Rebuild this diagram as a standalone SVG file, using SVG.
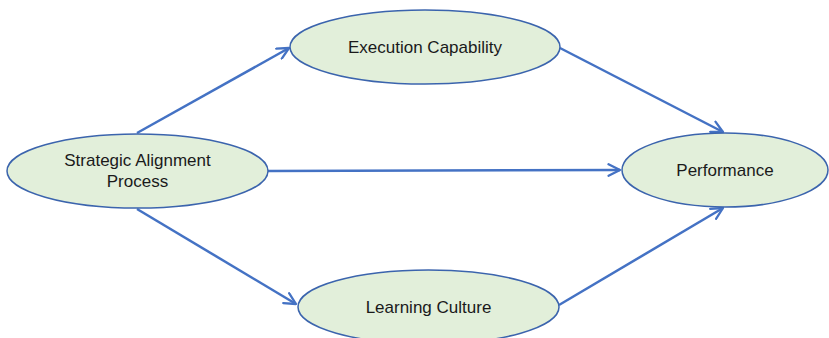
<svg xmlns="http://www.w3.org/2000/svg" width="829" height="338" viewBox="0 0 829 338">
  <style>
    .node ellipse { fill: #E2EFDA; stroke: #3B64AD; stroke-width: 1.5; }
    .node text { font-family: "Liberation Sans", Arial, sans-serif; font-size: 17px; fill: #1a1a1a; text-anchor: middle; }
    .edge { stroke: #4472C4; stroke-width: 2.5; fill: none; marker-end: url(#arrow); }
  </style>
  <defs>
    <marker id="arrow" viewBox="0 0 12 12" refX="11" refY="6" markerWidth="5.5" markerHeight="5.5" orient="auto" markerUnits="strokeWidth">
      <path d="M1,1 L11,6 L1,11" fill="none" stroke="#4472C4" stroke-width="2" stroke-linecap="round" stroke-linejoin="round"/>
    </marker>
  </defs>
  <rect width="829" height="338" fill="#ffffff"/>

  <g id="connectors">
    <line class="edge" x1="137" y1="133" x2="289" y2="48"/>
    <line class="edge" x1="268" y1="171" x2="620" y2="170"/>
    <line class="edge" x1="137" y1="209" x2="296" y2="304"/>
    <line class="edge" x1="560" y1="48" x2="723" y2="132"/>
    <line class="edge" x1="559" y1="305" x2="723" y2="208"/>
  </g>

  <g id="strategic-alignment" class="node">
    <ellipse cx="137.5" cy="171" rx="130.5" ry="37"/>
    <text x="137.5" y="166">Strategic Alignment</text>
    <text x="137.5" y="187">Process</text>
  </g>
  <g id="execution-capability" class="node">
    <ellipse cx="425" cy="47" rx="135" ry="37"/>
    <text x="425" y="53">Execution Capability</text>
  </g>
  <g id="performance" class="node">
    <ellipse cx="725" cy="170" rx="103" ry="37"/>
    <text x="725" y="176">Performance</text>
  </g>
  <g id="learning-culture" class="node">
    <ellipse cx="428.5" cy="307" rx="130.5" ry="37"/>
    <text x="428.5" y="313">Learning Culture</text>
  </g>
</svg>
